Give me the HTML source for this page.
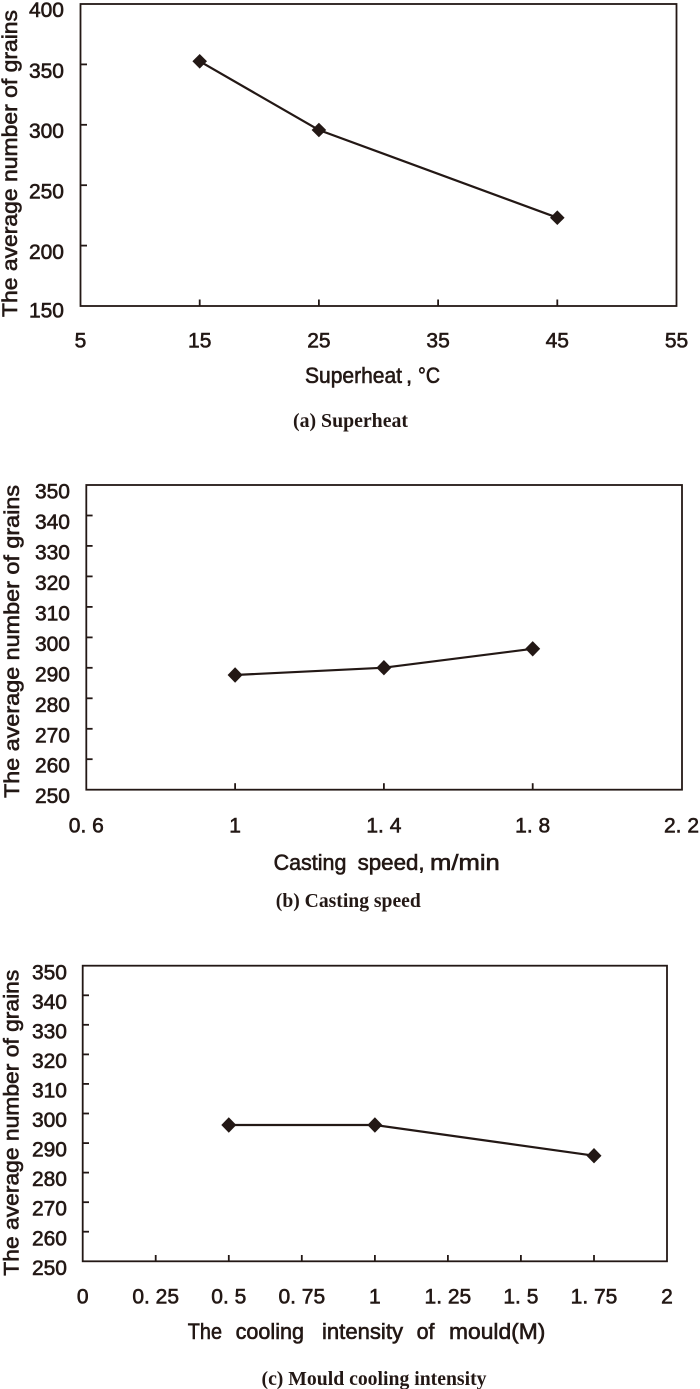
<!DOCTYPE html>
<html>
<head>
<meta charset="utf-8">
<style>
  html, body { margin: 0; padding: 0; background: #ffffff; }
  svg { display: block; }
  .t { font-family: "Liberation Sans", "DejaVu Sans", sans-serif; fill: #231815; stroke: #231815; stroke-width: 0.6; }
  .cap { font-family: "Liberation Serif", "DejaVu Serif", serif; font-weight: bold; fill: #231815; }
</style>
</head>
<body>
<svg width="700" height="1389" viewBox="0 0 700 1389" xmlns="http://www.w3.org/2000/svg">
  <rect x="0" y="0" width="700" height="1389" fill="#ffffff"/>

  <!-- ================= (a) Superheat ================= -->
  <g stroke="#231815" fill="none" stroke-width="1.8">
    <rect x="80.5" y="4" width="596" height="302"/>
    <line x1="80.5" y1="64.4" x2="87" y2="64.4"/>
    <line x1="80.5" y1="124.8" x2="87" y2="124.8"/>
    <line x1="80.5" y1="185.2" x2="87" y2="185.2"/>
    <line x1="80.5" y1="245.6" x2="87" y2="245.6"/>
    <line x1="199.7" y1="306" x2="199.7" y2="299.5"/>
    <line x1="318.9" y1="306" x2="318.9" y2="299.5"/>
    <line x1="438.1" y1="306" x2="438.1" y2="299.5"/>
    <line x1="557.3" y1="306" x2="557.3" y2="299.5"/>
  </g>
  <polyline points="199.7,61.3 318.9,130 557.3,217.7" fill="none" stroke="#231815" stroke-width="2.2"/>
  <g fill="#231815">
    <polygon points="199.7,54 207,61.3 199.7,68.6 192.4,61.3"/>
    <polygon points="318.9,122.7 326.2,130 318.9,137.3 311.6,130"/>
    <polygon points="557.3,210.4 564.6,217.7 557.3,225 550,217.7"/>
  </g>
  <g class="t" font-size="21" text-anchor="end">
    <text x="64" y="17">400</text>
    <text x="64" y="78">350</text>
    <text x="64" y="138">300</text>
    <text x="64" y="198.5">250</text>
    <text x="64" y="259">200</text>
    <text x="64" y="317.5">150</text>
  </g>
  <g class="t" font-size="21" text-anchor="middle">
    <text x="80.5" y="347.7">5</text>
    <text x="199.7" y="347.7">15</text>
    <text x="318.9" y="347.7">25</text>
    <text x="438.1" y="347.7">35</text>
    <text x="557.3" y="347.7">45</text>
    <text x="676.5" y="347.7">55</text>
  </g>
  <text class="t" font-size="21" transform="translate(17,317) rotate(-90)" textLength="307" lengthAdjust="spacingAndGlyphs">The average number of grains</text>
  <g class="t" font-size="22">
    <text x="305" y="383" textLength="97" lengthAdjust="spacingAndGlyphs">Superheat</text>
    <text x="406" y="383">,</text>
    <text x="418" y="383" textLength="22" lengthAdjust="spacingAndGlyphs">°C</text>
  </g>
  <text class="cap" x="293" y="427" font-size="20" textLength="115" lengthAdjust="spacingAndGlyphs">(a) Superheat</text>

  <!-- ================= (b) Casting speed ================= -->
  <g stroke="#231815" fill="none" stroke-width="1.8">
    <rect x="86.3" y="485" width="595.7" height="304.7"/>
    <line x1="86.3" y1="515.5" x2="92.6" y2="515.5"/>
    <line x1="86.3" y1="545.9" x2="92.6" y2="545.9"/>
    <line x1="86.3" y1="576.4" x2="92.6" y2="576.4"/>
    <line x1="86.3" y1="606.9" x2="92.6" y2="606.9"/>
    <line x1="86.3" y1="637.4" x2="92.6" y2="637.4"/>
    <line x1="86.3" y1="667.8" x2="92.6" y2="667.8"/>
    <line x1="86.3" y1="698.3" x2="92.6" y2="698.3"/>
    <line x1="86.3" y1="728.8" x2="92.6" y2="728.8"/>
    <line x1="86.3" y1="759.2" x2="92.6" y2="759.2"/>
    <line x1="235.1" y1="789.7" x2="235.1" y2="783.2"/>
    <line x1="383.9" y1="789.7" x2="383.9" y2="783.2"/>
    <line x1="532.7" y1="789.7" x2="532.7" y2="783.2"/>
  </g>
  <polyline points="235.1,675 383.9,667.7 532.7,648.8" fill="none" stroke="#231815" stroke-width="2.2"/>
  <g fill="#231815">
    <polygon points="235.1,667.3 242.6,675 235.1,682.7 227.6,675"/>
    <polygon points="383.9,660 391.4,667.7 383.9,675.4 376.4,667.7"/>
    <polygon points="532.7,641.1 540.2,648.8 532.7,656.5 525.2,648.8"/>
  </g>
  <g class="t" font-size="21" text-anchor="end">
    <text x="70" y="498.5">350</text>
    <text x="70" y="529">340</text>
    <text x="70" y="559.4">330</text>
    <text x="70" y="589.9">320</text>
    <text x="70" y="620.4">310</text>
    <text x="70" y="650.9">300</text>
    <text x="70" y="681.3">290</text>
    <text x="70" y="711.8">280</text>
    <text x="70" y="742.3">270</text>
    <text x="70" y="772.7">260</text>
    <text x="70" y="803.2">250</text>
  </g>
  <g class="t" font-size="21" text-anchor="middle" style="white-space:pre">
    <text x="86.3" y="832.7">0. 6</text>
    <text x="235.1" y="832.7">1</text>
    <text x="383.9" y="832.7">1. 4</text>
    <text x="532.7" y="832.7">1. 8</text>
    <text x="681.5" y="832.7">2. 2</text>
  </g>
  <text class="t" font-size="21" transform="translate(19,798) rotate(-90)" textLength="313" lengthAdjust="spacingAndGlyphs">The average number of grains</text>
  <g class="t" font-size="22">
    <text x="273.6" y="870" textLength="72.8" lengthAdjust="spacingAndGlyphs">Casting</text>
    <text x="357.6" y="870" textLength="67" lengthAdjust="spacingAndGlyphs">speed,</text>
    <text x="430" y="870" textLength="69.8" lengthAdjust="spacingAndGlyphs">m/min</text>
  </g>
  <text class="cap" x="275.8" y="907" font-size="20" textLength="145" lengthAdjust="spacingAndGlyphs">(b) Casting speed</text>

  <!-- ================= (c) Mould cooling intensity ================= -->
  <g stroke="#231815" fill="none" stroke-width="1.8">
    <rect x="82.7" y="965.7" width="584.3" height="295.6"/>
    <line x1="82.7" y1="995.3" x2="89" y2="995.3"/>
    <line x1="82.7" y1="1024.8" x2="89" y2="1024.8"/>
    <line x1="82.7" y1="1054.4" x2="89" y2="1054.4"/>
    <line x1="82.7" y1="1083.9" x2="89" y2="1083.9"/>
    <line x1="82.7" y1="1113.5" x2="89" y2="1113.5"/>
    <line x1="82.7" y1="1143.1" x2="89" y2="1143.1"/>
    <line x1="82.7" y1="1172.6" x2="89" y2="1172.6"/>
    <line x1="82.7" y1="1202.2" x2="89" y2="1202.2"/>
    <line x1="82.7" y1="1231.7" x2="89" y2="1231.7"/>
    <line x1="155.7" y1="1261.3" x2="155.7" y2="1255"/>
    <line x1="228.8" y1="1261.3" x2="228.8" y2="1255"/>
    <line x1="301.8" y1="1261.3" x2="301.8" y2="1255"/>
    <line x1="374.9" y1="1261.3" x2="374.9" y2="1255"/>
    <line x1="447.9" y1="1261.3" x2="447.9" y2="1255"/>
    <line x1="520.9" y1="1261.3" x2="520.9" y2="1255"/>
    <line x1="594" y1="1261.3" x2="594" y2="1255"/>
  </g>
  <polyline points="228.8,1125 374.9,1125 594,1155.7" fill="none" stroke="#231815" stroke-width="2.2"/>
  <g fill="#231815">
    <polygon points="228.8,1117.3 236.3,1125 228.8,1132.7 221.3,1125"/>
    <polygon points="374.9,1117.3 382.4,1125 374.9,1132.7 367.4,1125"/>
    <polygon points="594,1148 601.5,1155.7 594,1163.4 586.5,1155.7"/>
  </g>
  <g class="t" font-size="21" text-anchor="end">
    <text x="67" y="979.3">350</text>
    <text x="67" y="1008.8">340</text>
    <text x="67" y="1038.4">330</text>
    <text x="67" y="1067.9">320</text>
    <text x="67" y="1097.5">310</text>
    <text x="67" y="1127">300</text>
    <text x="67" y="1156.6">290</text>
    <text x="67" y="1186.2">280</text>
    <text x="67" y="1215.7">270</text>
    <text x="67" y="1245.3">260</text>
    <text x="67" y="1274.8">250</text>
  </g>
  <g class="t" font-size="21" text-anchor="middle" style="white-space:pre">
    <text x="82.7" y="1303.3">0</text>
    <text x="155.7" y="1303.3">0. 25</text>
    <text x="228.8" y="1303.3">0. 5</text>
    <text x="301.8" y="1303.3">0. 75</text>
    <text x="374.9" y="1303.3">1</text>
    <text x="447.9" y="1303.3">1. 25</text>
    <text x="520.9" y="1303.3">1. 5</text>
    <text x="594" y="1303.3">1. 75</text>
    <text x="667" y="1303.3">2</text>
  </g>
  <text class="t" font-size="21" transform="translate(18.3,1275.7) rotate(-90)" textLength="306" lengthAdjust="spacingAndGlyphs">The average number of grains</text>
  <g class="t" font-size="22">
    <text x="187.8" y="1339" textLength="34.2" lengthAdjust="spacingAndGlyphs">The</text>
    <text x="235.6" y="1339" textLength="68.4" lengthAdjust="spacingAndGlyphs">cooling</text>
    <text x="322" y="1339" textLength="81" lengthAdjust="spacingAndGlyphs">intensity</text>
    <text x="416.6" y="1339" textLength="17.9" lengthAdjust="spacingAndGlyphs">of</text>
    <text x="449" y="1339" textLength="96.4" lengthAdjust="spacingAndGlyphs">mould(M)</text>
  </g>
  <text class="cap" x="261.5" y="1385" font-size="20" textLength="225" lengthAdjust="spacingAndGlyphs">(c) Mould cooling intensity</text>
</svg>
</body>
</html>
